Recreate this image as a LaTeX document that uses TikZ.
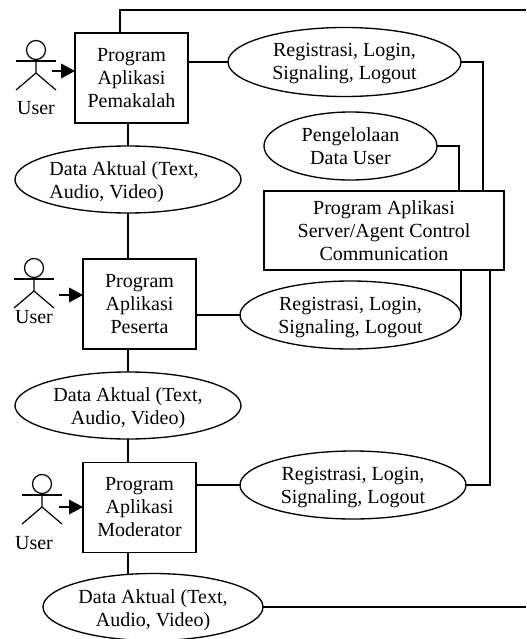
\documentclass[tikz,border=0pt]{standalone}
\usepackage{fontspec}
\setmainfont{Liberation Serif}
\usetikzlibrary{shapes.geometric,arrows.meta}
\tikzset{
  diagramtext/.style={font=\fontsize{15}{17.25}\selectfont,align=center,inner sep=0pt,outer sep=0pt},
  progbox/.style={diagramtext,draw,fill=white,rectangle,line width=1pt,minimum width=84.75pt,minimum height=67.5pt},
  usecase/.style={diagramtext,draw,fill=white,ellipse,line width=1pt},
  link/.style={line width=1pt},
  userarrow/.style={line width=1pt,-{Triangle[length=10.5pt,width=11pt]}},
  actorfigure/.pic={
    \draw[line width=0.9pt] (0,-11) circle[radius=9.5];
    \draw[line width=0.9pt] (-20,0) -- (20,0);
    \draw[line width=0.9pt] (0,-2) -- (0,12) -- (-20,29);
    \draw[line width=0.9pt] (0,12) -- (20,29);
  }
}
\begin{document}
\begin{tikzpicture}[x=0.75pt,y=-0.75pt]
\useasboundingbox (0,0) rectangle (526,639);
% program boxes
\node[progbox] (box1) at (131.5,78) {Program\\Aplikasi\\Pemakalah};
\node[progbox] (box2) at (139.5,304) {Program\\Aplikasi\\Peserta};
\node[progbox] (box3) at (139.5,507.5) {Program\\Aplikasi\\Moderator};
\node[progbox,minimum width=180pt,minimum height=59.25pt] (server) at (384,230.5) {Program Aplikasi\\Server/Agent Control\\Communication};
% use cases
\node[usecase,minimum width=174.75pt,minimum height=51.75pt] (reg1) at (344.5,62) {};
\node[usecase,minimum width=129.75pt,minimum height=51pt] (peng) at (350.5,146) {};
\node[usecase,minimum width=165.75pt,minimum height=51pt] (reg2) at (350.5,315) {};
\node[usecase,minimum width=169.5pt,minimum height=51pt] (reg3) at (353,485) {};
\node[usecase,minimum width=169.5pt,minimum height=50.25pt] (data1) at (128,179.5) {};
\node[usecase,minimum width=169.5pt,minimum height=50.25pt] (data2) at (128,405.5) {};
\node[usecase,minimum width=165pt,minimum height=50.25pt] (data3) at (153,607) {};
% use case texts
\node[diagramtext,yshift=-1.5pt] (reg1text) at (reg1) {Registrasi, Login,\\Signaling, Logout};
\node[diagramtext] (pengtext) at (peng) {Pengelolaan\\Data User};
\node[diagramtext,yshift=-2pt] (reg2text) at (reg2) {Registrasi, Login,\\Signaling, Logout};
\node[diagramtext,yshift=-2pt] (reg3text) at (reg3) {Registrasi, Login,\\Signaling, Logout};
\node[diagramtext,align=left] (data1text) at (124,182.5) {Data Aktual (Text,\\Audio, Video)};
\node[diagramtext,yshift=-2.25pt] (data2text) at (data2) {Data Aktual (Text,\\Audio, Video)};
\node[diagramtext,yshift=-2.5pt] (data3text) at (data3) {Data Aktual (Text,\\Audio, Video)};
% helper coordinates
\coordinate (topx) at (120,10);
\coordinate (midx) at (128,0);
\coordinate (rightTop) at (526,10);
\coordinate (rightBottom) at (526,607);
\coordinate (busA) at (483,0);
\coordinate (busB) at (459,0);
\coordinate (busC) at (461,0);
\coordinate (busD) at (490,0);
% connectors
\draw[link] (box1.north -| topx) -- (topx) -- (rightTop);
\draw[link] (box1.east |- reg1.west) -- (reg1.west);
\draw[link] (reg1.east) -- (reg1.east -| busA) -- (server.north -| busA);
\draw[link] (peng.east) -- (peng.east -| busB) -- (server.north -| busB);
\draw[link] (server.south -| busC) -- (reg2.east);
\draw[link] (server.south -| busD) -- (reg3.east -| busD) -- (reg3.east);
\draw[link] (box2.east |- reg2.west) -- (reg2.west);
\draw[link] (box3.east |- reg3.west) -- (reg3.west);
\draw[link] (box1.south -| midx) -- (data1.north -| midx);
\draw[link] (data1.south -| midx) -- (box2.north -| midx);
\draw[link] (box2.south -| midx) -- (data2.north -| midx);
\draw[link] (data2.south -| midx) -- (box3.north -| midx);
\draw[link] (box3.south -| midx) -- (data3.north -| midx);
\draw[link] (data3.east) -- (rightBottom);
% actors
\pic at (36,61) {actorfigure};
\pic at (34,279) {actorfigure};
\pic at (42,495) {actorfigure};
\node[diagramtext,anchor=base] (user1) at (36,114) {User};
\node[diagramtext,anchor=base] (user2) at (34,323) {User};
\node[diagramtext,anchor=base] (user3) at (34,549) {User};
% arrows
\coordinate (arrow1) at (52,71);
\coordinate (arrow2) at (59,295);
\coordinate (arrow3) at (59,507);
\draw[userarrow] (arrow1) -- (arrow1 -| box1.west);
\draw[userarrow] (arrow2) -- (arrow2 -| box2.west);
\draw[userarrow] (arrow3) -- (arrow3 -| box3.west);
\end{tikzpicture}
\end{document}
